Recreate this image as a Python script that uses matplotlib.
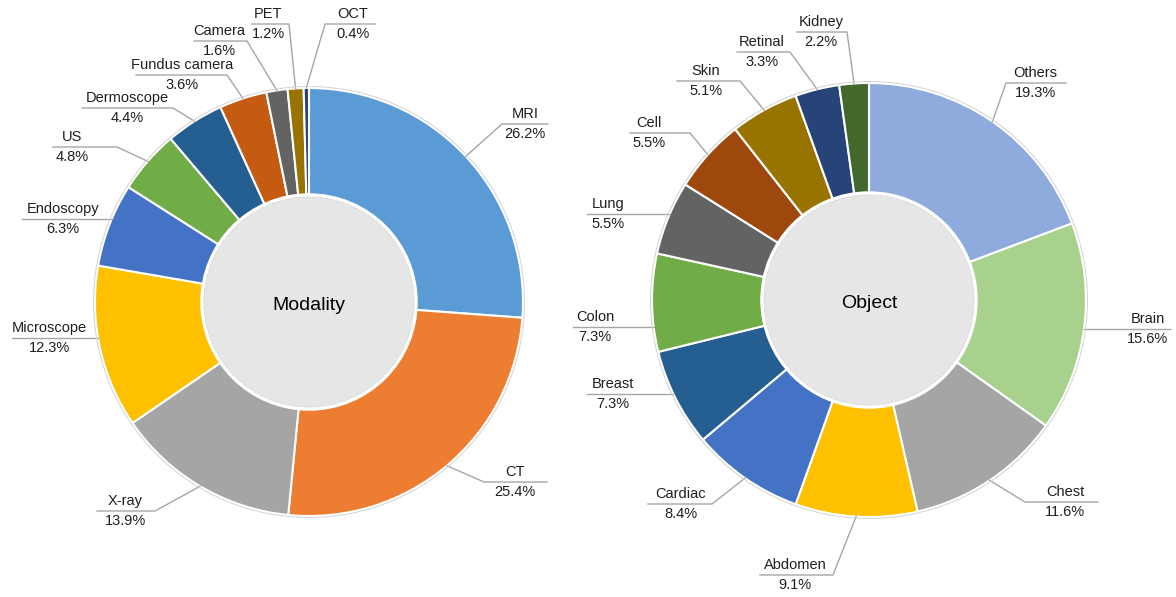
import numpy as np
import matplotlib.pyplot as plt
from matplotlib.patches import Circle

plt.rcParams['font.family'] = ['Liberation Sans', 'DejaVu Sans']

# ---- data ----
modality_names = ['MRI', 'CT', 'X-ray', 'Microscope', 'Endoscopy', 'US',
                  'Dermoscope', 'Fundus camera', 'Camera', 'PET', 'OCT']
modality_values = [26.2, 25.4, 13.9, 12.3, 6.3, 4.8, 4.4, 3.6, 1.6, 1.2, 0.4]
modality_colors = ['#5B9BD5', '#ED7D31', '#A5A5A5', '#FFC000', '#4472C4', '#70AD47',
                   '#255E91', '#C55A11', '#636363', '#997300', '#264478']

object_names = ['Others', 'Brain', 'Chest', 'Abdomen', 'Cardiac', 'Breast',
                'Colon', 'Lung', 'Cell', 'Skin', 'Retinal', 'Kidney']
object_values = [19.3, 15.6, 11.6, 9.1, 8.4, 7.3, 7.3, 5.5, 5.5, 5.1, 3.3, 2.2]
object_colors = ['#8FAADC', '#A9D18E', '#A5A5A5', '#FFC000', '#4472C4', '#255E91',
                 '#70AD47', '#636363', '#9E480E', '#997300', '#264478', '#43682B']

# label layout in pixels: (text x, leader y, far end x, elbow x or None = runs to ring)
modality_label_pos = [(525, 124, 548, 502), (515, 482, 547, 484), (125, 511, 97, 155),
                      (49, 338, 12, None), (63, 219, 22, None), (72, 147, 53, 117),
                      (127, 108, 82, 173), (182, 75, 136, 227), (219, 41, 194, 247),
                      (268, 24, 252, 289), (353, 24, 375, 325)]
object_label_pos = [(1035, 83, 1066, 1006), (1148, 329, 1170, None), (1065, 502, 1098, 1025),
                    (795, 575, 760, 833), (681, 504, 648, 712), (613, 394, 587, None),
                    (595, 327, 573, None), (608, 214, 587, None), (649, 133, 630, 690),
                    (706, 81, 677, 740), (762, 52, 737, 790), (821, 32, 797, 847)]

W, H = 1176, 597
fig = plt.figure(figsize=(W / 100, H / 100), dpi=100)
ax = fig.add_axes([0, 0, 1, 1])

text_color = '#1f1f1f'
line_color = '#a6a6a6'


def donut(ax, names, values, colors, label_pos, center, r_out, r_in, title):
    cx, cy = center
    # y axis is flipped later, so counterclock in data = clockwise on screen
    wedges, _ = ax.pie(values, colors=colors, radius=r_out, center=center,
                       startangle=-90, counterclock=True,
                       wedgeprops=dict(width=r_out - r_in, edgecolor='white', linewidth=1.5))
    ax.add_patch(Circle(center, r_out + 1.5, fill=False, edgecolor='#d4d4d4', lw=0.7, zorder=3))
    ax.add_patch(Circle(center, r_in, facecolor='#e6e6e6', edgecolor='white', lw=2.5, zorder=4))
    ax.add_patch(Circle(center, r_in - 2, fill=False, edgecolor='#cfcfcf', lw=0.5,
                        linestyle=(0, (3, 2)), zorder=5))
    ax.text(cx, cy + 3, title, ha='center', va='center', fontsize=14, color='black', zorder=6)

    for w, name, val, (tx, ly, far, elbow) in zip(wedges, names, values, label_pos):
        mid = np.deg2rad((w.theta1 + w.theta2) / 2)
        ax0 = cx + r_out * np.cos(mid)
        ay0 = cy + r_out * np.sin(mid)
        if elbow is None:
            dx = np.sqrt(max(r_out ** 2 - (ly - cy) ** 2, 0))
            xt = cx - dx if far < cx else cx + dx
            ax.plot([far, xt], [ly, ly], color=line_color, lw=1, zorder=2)
        else:
            ax.plot([ax0, elbow, far], [ay0, ly, ly], color=line_color, lw=1, zorder=2)
        ax.text(tx, ly - 10, name, ha='center', va='center', fontsize=10.5, color=text_color)
        ax.text(tx, ly + 10, f'{val:.1f}%', ha='center', va='center', fontsize=10.5, color=text_color)


donut(ax, modality_names, modality_values, modality_colors, modality_label_pos,
      (309, 302), 214, 107, 'Modality')
donut(ax, object_names, object_values, object_colors, object_label_pos,
      (869, 300), 217, 107, 'Object')

ax.set_xlim(0, W)
ax.set_ylim(H, 0)
ax.set_aspect('equal')
ax.axis('off')

fig.savefig('out.png', dpi=100, facecolor='white')
